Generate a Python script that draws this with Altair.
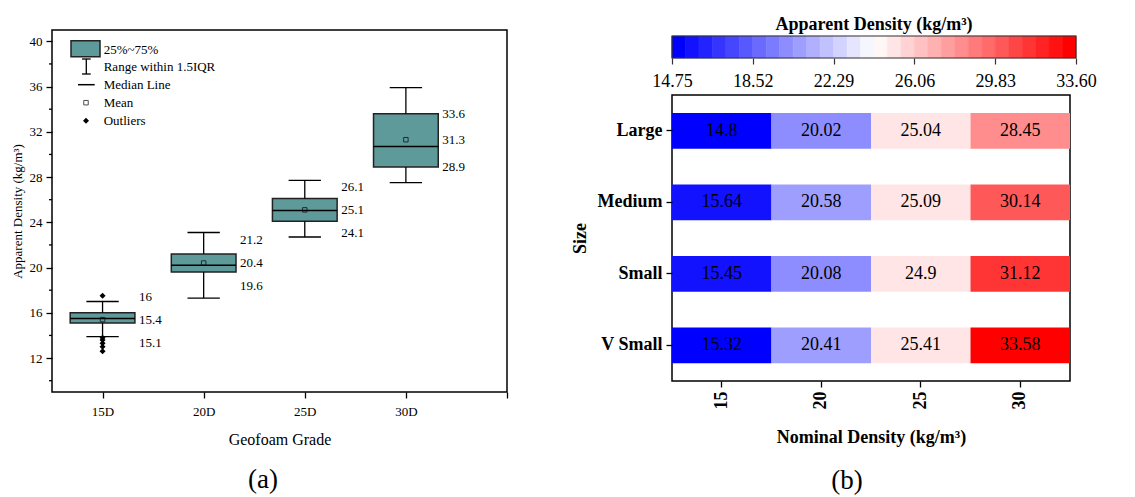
import json
import altair as alt
import pandas as pd

FONT = "Liberation Serif"

# ---------------- Panel (a): box plot data ----------------
grades = ["15D", "20D", "25D", "30D"]
grade_pos = [1, 2, 3, 4]
q1 = [15.1, 19.6, 24.1, 28.9]
q3 = [16.0, 21.2, 26.1, 33.6]
medians = [15.5, 20.2, 25.05, 30.7]
means = [15.4, 20.4, 25.1, 31.3]
whisker_lo = [13.9, 17.3, 22.7, 27.5]
whisker_hi = [17.0, 23.1, 27.7, 35.9]
outlier_pos = [1, 1, 1, 1, 1, 1]
outlier_vals = [17.5, 13.8, 13.6, 13.3, 13.0, 12.6]
legend_labels = ["25%~75%", "Range within 1.5IQR", "Median Line", "Mean", "Outliers"]

# ---------------- Panel (b): heatmap data ----------------
sizes = ["Large", "Medium", "Small", "V Small"]
nominal = [15, 20, 25, 30]
app_density = [
    [14.8, 20.02, 25.04, 28.45],
    [15.64, 20.58, 25.09, 30.14],
    [15.45, 20.08, 24.9, 31.12],
    [15.32, 20.41, 25.41, 33.58],
]
cbar_ticks = [14.75, 18.52, 22.29, 26.06, 29.83, 33.60]
cbar_domain = [14.75, 33.60]
n_levels = 30

TEAL = "#5F9A9B"
HALF_BOX = 0.32
HALF_CAP = 0.16


def bwr(t):
    if t < 0.5:
        v = 2 * t
        r, g, b = v, v, 1.0
    else:
        v = 2 * (1 - t)
        r, g, b = 1.0, v, v
    return "#%02x%02x%02x" % (round(r * 255), round(g * 255), round(b * 255))


colors = [bwr(i / (n_levels - 1)) for i in range(n_levels)]

# ---------------- build panel (a) ----------------
box = pd.DataFrame({
    "grade": grades, "pos": grade_pos, "q1": q1, "q3": q3, "med": medians,
    "mean": means, "wlo": whisker_lo, "whi": whisker_hi,
})
box["xl"] = box["pos"] - HALF_BOX
box["xr"] = box["pos"] + HALF_BOX
box["cl"] = box["pos"] - HALF_CAP
box["cr"] = box["pos"] + HALF_CAP
box["top_y"] = [max(a, m + 2.0) for a, m in zip(q3, means)]
box["bot_y"] = [min(a, m - 2.05) for a, m in zip(q1, means)]
box["top_t"] = [f"{v:g}" for v in q3]
box["mid_t"] = [f"{v:g}" for v in means]
box["bot_t"] = [f"{v:g}" for v in q1]

out_df = pd.DataFrame({"pos": outlier_pos, "v": outlier_vals})
minor_df = pd.DataFrame({"v": list(range(10, 41, 4))})

xs = alt.Scale(domain=[0.5, 5], nice=False, zero=False)
ys = alt.Scale(domain=[9, 41], nice=False, zero=False)
label_expr = "datum.value <= 4 ? " + json.dumps(grades) + "[datum.value - 1] : ''"
x_axis = alt.Axis(values=[1, 2, 3, 4, 5], labelExpr=label_expr, title="Geofoam Grade",
                  grid=False, domain=False, tickSize=6, tickColor="black", tickWidth=1.3,
                  labelFont=FONT, labelFontSize=13, labelColor="black", labelPadding=7,
                  titleFont=FONT, titleFontSize=16, titleFontWeight="normal",
                  titleColor="black", titlePadding=13)
y_axis = alt.Axis(values=list(range(12, 41, 4)), title="Apparent Density (kg/m³)",
                  grid=False, domain=False, tickSize=6, tickColor="black", tickWidth=1.3,
                  labelFont=FONT, labelFontSize=13, labelColor="black", labelPadding=4,
                  titleFont=FONT, titleFontSize=13, titleFontWeight="normal",
                  titleColor="black", titlePadding=5)

base = alt.Chart(box)
boxes = base.mark_rect(fill=TEAL, stroke="#222", strokeWidth=1.5).encode(
    x=alt.X("xl:Q", scale=xs, axis=x_axis), x2="xr:Q",
    y=alt.Y("q1:Q", scale=ys, axis=y_axis), y2="q3:Q")
w_up = base.mark_rule(color="black", strokeWidth=1.3).encode(
    x=alt.X("pos:Q", scale=xs, axis=x_axis), y=alt.Y("q3:Q", scale=ys, axis=y_axis), y2="whi:Q")
w_dn = base.mark_rule(color="black", strokeWidth=1.3).encode(
    x=alt.X("pos:Q", scale=xs, axis=x_axis), y=alt.Y("wlo:Q", scale=ys, axis=y_axis), y2="q1:Q")
cap_hi = base.mark_rule(color="black", strokeWidth=1.3).encode(
    x=alt.X("cl:Q", scale=xs, axis=x_axis), x2="cr:Q", y=alt.Y("whi:Q", scale=ys, axis=y_axis))
cap_lo = base.mark_rule(color="black", strokeWidth=1.3).encode(
    x=alt.X("cl:Q", scale=xs, axis=x_axis), x2="cr:Q", y=alt.Y("wlo:Q", scale=ys, axis=y_axis))
med = base.mark_rule(color="black", strokeWidth=1.5).encode(
    x=alt.X("xl:Q", scale=xs, axis=x_axis), x2="xr:Q", y=alt.Y("med:Q", scale=ys, axis=y_axis))
mean_pt = base.mark_point(shape="square", filled=False, size=20, color="black", strokeWidth=1).encode(
    x=alt.X("pos:Q", scale=xs, axis=x_axis), y=alt.Y("mean:Q", scale=ys, axis=y_axis))
outl = alt.Chart(out_df).mark_point(shape="diamond", filled=True, size=36, color="black", opacity=1).encode(
    x=alt.X("pos:Q", scale=xs, axis=x_axis), y=alt.Y("v:Q", scale=ys, axis=y_axis))


def lab(ycol, tcol):
    return base.mark_text(align="left", baseline="middle", dx=4, font=FONT, fontSize=13, color="black").encode(
        x=alt.X("xr:Q", scale=xs, axis=x_axis), y=alt.Y(f"{ycol}:Q", scale=ys, axis=y_axis), text=f"{tcol}:N")


labels_a = [lab("top_y", "top_t"), lab("mean", "mid_t"), lab("bot_y", "bot_t")]

minor = alt.Chart(minor_df).mark_rule(color="black", strokeWidth=1.3).encode(
    y=alt.Y("v:Q", scale=ys, axis=y_axis), x=alt.value(-3), x2=alt.value(0))

one = pd.DataFrame({"k": [0]})
leg_layers = [
    alt.Chart(one).mark_rect(fill=TEAL, stroke="#222", strokeWidth=1.5).encode(
        x=alt.value(19), x2=alt.value(48), y=alt.value(10.7), y2=alt.value(26.7)),
    alt.Chart(one).mark_rule(color="black", strokeWidth=1.3).encode(
        x=alt.value(34.3), y=alt.value(29), y2=alt.value(44)),
    alt.Chart(one).mark_rule(color="black", strokeWidth=1.3).encode(
        x=alt.value(30), x2=alt.value(38.7), y=alt.value(29)),
    alt.Chart(one).mark_rule(color="black", strokeWidth=1.3).encode(
        x=alt.value(30), x2=alt.value(38.7), y=alt.value(44)),
    alt.Chart(one).mark_rule(color="black", strokeWidth=1.5).encode(
        x=alt.value(26), x2=alt.value(42.7), y=alt.value(54.7)),
    alt.Chart(one).mark_point(shape="square", filled=False, size=20, color="black", strokeWidth=1).encode(
        x=alt.value(34), y=alt.value(72.7)),
    alt.Chart(one).mark_point(shape="diamond", filled=True, size=36, color="black", opacity=1).encode(
        x=alt.value(34), y=alt.value(90.7)),
]
for i, t in enumerate(legend_labels):
    leg_layers.append(
        alt.Chart(one).mark_text(text=t, align="left", baseline="middle", font=FONT, fontSize=13,
                                 color="black").encode(x=alt.value(51.7), y=alt.value(19.7 + i * 17.75)))

cap_a = alt.Chart(one).mark_text(text="(a)", align="center", baseline="middle", font=FONT,
                                 fontSize=27, color="black").encode(x=alt.value(211), y=alt.value(450))

left = alt.layer(boxes, w_up, w_dn, cap_hi, cap_lo, med, mean_pt, outl, *labels_a, minor,
                 *leg_layers, cap_a).properties(width=455, height=362)

# ---------------- build panel (b) ----------------
rows = []
for s, vals in zip(sizes, app_density):
    for n, v in zip(nominal, vals):
        rows.append({"size": s, "nominal": n, "value": v, "label": str(v)})
heat_df = pd.DataFrame(rows)

hx = alt.X("nominal:O", sort=nominal, scale=alt.Scale(paddingInner=0, paddingOuter=0),
           axis=alt.Axis(title="Nominal Density (kg/m³)", labelAngle=-90, tickSize=6,
                         tickColor="black", tickWidth=1.3, domain=False,
                         labelFont=FONT, labelFontSize=18, labelFontWeight="bold", labelColor="black",
                         labelPadding=4, titleFont=FONT, titleFontSize=18, titleFontWeight="bold",
                         titleColor="black", titlePadding=19))
hy = alt.Y("size:N", sort=sizes, scale=alt.Scale(paddingInner=0.5, paddingOuter=0.25),
           axis=alt.Axis(title="Size", tickSize=6, tickColor="black", tickWidth=1.3, domain=False,
                         labelFont=FONT, labelFontSize=18, labelFontWeight="bold", labelColor="black",
                         labelPadding=4, titleFont=FONT, titleFontSize=18, titleFontWeight="bold",
                         titleColor="black", titlePadding=8))
cells = alt.Chart(heat_df).mark_rect().encode(
    x=hx, y=hy,
    color=alt.Color("value:Q", scale=alt.Scale(type="quantize", domain=cbar_domain, range=colors),
                    legend=None))
cell_txt = alt.Chart(heat_df).mark_text(font=FONT, fontSize=18, color="black", baseline="middle").encode(
    x=hx, y=hy, text="label:N")
cap_b = alt.Chart(one).mark_text(text="(b)", align="center", baseline="middle", font=FONT,
                                 fontSize=27, color="black").encode(x=alt.value(175), y=alt.value(386))
heat = alt.layer(cells, cell_txt, cap_b).properties(width=398, height=286)

step = (cbar_domain[1] - cbar_domain[0]) / n_levels
cb_df = pd.DataFrame({
    "lo": [cbar_domain[0] + i * step for i in range(n_levels)],
    "hi": [cbar_domain[0] + (i + 1) * step for i in range(n_levels)],
    "c": colors,
})
cbx = alt.Scale(domain=cbar_domain, nice=False, zero=False)
cb_axis = alt.Axis(values=cbar_ticks, format=".2f", title=None, tickSize=6, tickColor="#333",
                   tickWidth=1.2, domain=False, labelFlush=False, labelFont=FONT, labelFontSize=18,
                   labelColor="black", labelPadding=8, grid=False)
cb_rects = alt.Chart(cb_df).mark_rect(strokeWidth=0.6).encode(
    x=alt.X("lo:Q", scale=cbx, axis=cb_axis), x2="hi:Q",
    y=alt.value(6), y2=alt.value(28), color=alt.Color("c:N", scale=None),
    stroke=alt.Stroke("c:N", scale=None))
cb_frame = alt.Chart(one).mark_rect(fillOpacity=0, stroke="#333", strokeWidth=1.2).encode(
    x=alt.value(0), x2=alt.value(404), y=alt.value(6), y2=alt.value(28))
cb_title = alt.Chart(one).mark_text(text="Apparent Density (kg/m³)", font=FONT, fontSize=18,
                                    fontWeight="bold", color="black", align="center",
                                    baseline="alphabetic").encode(x=alt.value(202), y=alt.value(0))
cbar = alt.layer(cb_rects, cb_frame, cb_title).properties(
    width=404, height=28, view=alt.ViewBackground(strokeOpacity=0))

right = alt.vconcat(cbar, heat, spacing=37, bounds="flush")

chart = alt.hconcat(left, right, spacing=165, bounds="flush").properties(
    padding={"left": 2, "top": 8, "right": 2, "bottom": 2}
).configure(font=FONT, view=alt.ViewConfig(stroke="black", strokeWidth=1.5))

chart.save("out.html", embed_options={"renderer": "svg", "actions": False})
